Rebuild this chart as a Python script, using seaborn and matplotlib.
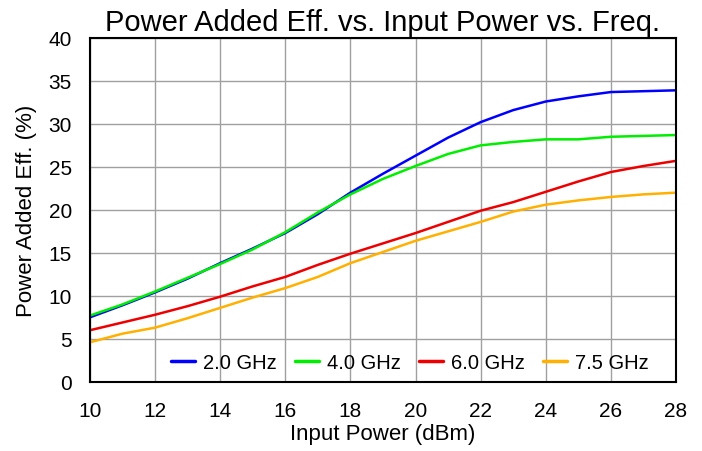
import pandas as pd
import matplotlib
matplotlib.use("Agg")
import matplotlib.pyplot as plt
import seaborn as sns

# Data
pin = list(range(10, 29))
eff_2g = [7.5, 8.9, 10.4, 12.0, 13.8, 15.5, 17.3, 19.5, 22.0, 24.2, 26.3, 28.4, 30.2, 31.6, 32.6, 33.2, 33.7, 33.8, 33.9]
eff_4g = [7.7, 9.0, 10.5, 12.1, 13.7, 15.4, 17.4, 19.7, 21.8, 23.6, 25.1, 26.5, 27.5, 27.9, 28.2, 28.2, 28.5, 28.6, 28.7]
eff_6g = [6.0, 6.9, 7.8, 8.8, 9.9, 11.1, 12.2, 13.6, 14.9, 16.1, 17.3, 18.6, 19.9, 20.9, 22.1, 23.3, 24.4, 25.1, 25.7]
eff_75g = [4.6, 5.6, 6.3, 7.4, 8.6, 9.8, 10.9, 12.2, 13.8, 15.1, 16.4, 17.5, 18.6, 19.8, 20.6, 21.1, 21.5, 21.8, 22.0]
freqs = ["2.0 GHz", "4.0 GHz", "6.0 GHz", "7.5 GHz"]
colors = ["#0000ff", "#00ee00", "#ee0000", "#ffb000"]

df = pd.DataFrame({
    "Pin": pin * 4,
    "Eff": eff_2g + eff_4g + eff_6g + eff_75g,
    "Freq": [f for f in freqs for _ in pin],
})

sns.set_style("white")
plt.rcParams["font.family"] = ["Liberation Sans", "DejaVu Sans"]
plt.rcParams["text.color"] = "black"
plt.rcParams["axes.labelcolor"] = "black"
plt.rcParams["xtick.color"] = "black"
plt.rcParams["ytick.color"] = "black"

fig = plt.figure(figsize=(7.02, 4.52), dpi=100)
ax = fig.add_axes([0.128, 0.153, 0.835, 0.761])

sns.lineplot(data=df, x="Pin", y="Eff", hue="Freq", palette=colors, linewidth=1.8, ax=ax)

ax.set_xlim(10, 28)
ax.set_ylim(0, 40)
ax.set_xticks(range(10, 29, 2))
ax.set_yticks(range(0, 41, 5))
ax.grid(True, color="#a0a0a0", linewidth=1)
for s in ax.spines.values():
    s.set_color("black")
    s.set_linewidth(1.5)
ax.tick_params(labelsize=15, length=0)
ax.tick_params(axis="x", pad=14)
ax.tick_params(axis="y", pad=13)
ax.set_xlabel("Input Power (dBm)", fontsize=16, labelpad=2)
ax.set_ylabel("Power Added Eff. (%)", fontsize=16, labelpad=8)
ax.set_title("Power Added Eff. vs. Input Power vs. Freq.", fontsize=21, pad=6)

leg = ax.legend(loc="lower right", ncol=4, frameon=False, fontsize=14.5,
                handlelength=1.2, handletextpad=0.4, columnspacing=0.9,
                bbox_to_anchor=(0.985, -0.025))
for line in leg.get_lines():
    line.set_linewidth(2.5)

plt.savefig("out.png", dpi=100)
